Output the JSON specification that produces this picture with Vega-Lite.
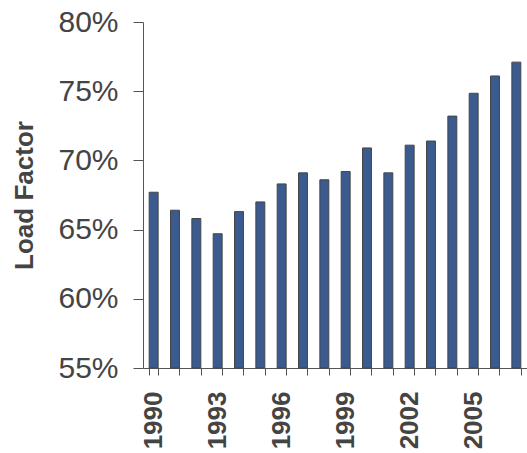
{
  "$schema": "https://vega.github.io/schema/vega-lite/v6.json",
  "autosize": "none",
  "width": 384,
  "height": 346,
  "padding": {"left": 143, "top": 22, "right": 0, "bottom": 85},
  "background": "white",
  "config": {"view": {"stroke": null}, "font": "Liberation Sans"},
  "data": {"values": [
    {"year": 1990, "lf": 0.677},
    {"year": 1991, "lf": 0.664},
    {"year": 1992, "lf": 0.658},
    {"year": 1993, "lf": 0.647},
    {"year": 1994, "lf": 0.663},
    {"year": 1995, "lf": 0.670},
    {"year": 1996, "lf": 0.683},
    {"year": 1997, "lf": 0.691},
    {"year": 1998, "lf": 0.686},
    {"year": 1999, "lf": 0.692},
    {"year": 2000, "lf": 0.709},
    {"year": 2001, "lf": 0.691},
    {"year": 2002, "lf": 0.711},
    {"year": 2003, "lf": 0.714},
    {"year": 2004, "lf": 0.732},
    {"year": 2005, "lf": 0.7485},
    {"year": 2006, "lf": 0.761},
    {"year": 2007, "lf": 0.771}
  ]},
  "mark": {"type": "bar", "fill": "#3B5A8F", "stroke": "#454545", "strokeWidth": 1},
  "encoding": {
    "x": {
      "field": "year", "type": "ordinal",
      "scale": {"paddingInner": 0.58, "paddingOuter": 0.29},
      "axis": {
        "title": null,
        "labelAngle": -90,
        "labelAlign": "right",
        "labelBaseline": "middle",
        "labelFont": "Liberation Sans",
        "labelFontSize": 26,
        "labelFontWeight": "bold",
        "labelColor": "#444444",
        "labelPadding": 16,
        "labelExpr": "datum.value % 3 == 1 ? datum.label : ''",
        "tickBand": "extent",
        "tickSize": 7,
        "tickColor": "#555555",
        "domainColor": "#555555",
        "labelOverlap": false
      }
    },
    "y": {
      "field": "lf", "type": "quantitative",
      "scale": {"domain": [0.55, 0.80], "zero": false, "nice": false},
      "axis": {
        "title": "Load Factor",
        "titleFont": "Liberation Sans",
        "titleFontSize": 26,
        "titleFontWeight": "bold",
        "titleColor": "#444444",
        "titlePadding": 20,
        "values": [0.55, 0.60, 0.65, 0.70, 0.75, 0.80],
        "format": ".0%",
        "labelFont": "Liberation Sans",
        "labelFontSize": 30,
        "labelColor": "#444444",
        "labelPadding": 15,
        "tickSize": 10,
        "tickColor": "#555555",
        "domainColor": "#555555",
        "grid": false
      }
    },
    "y2": {"datum": 0.55}
  }
}
